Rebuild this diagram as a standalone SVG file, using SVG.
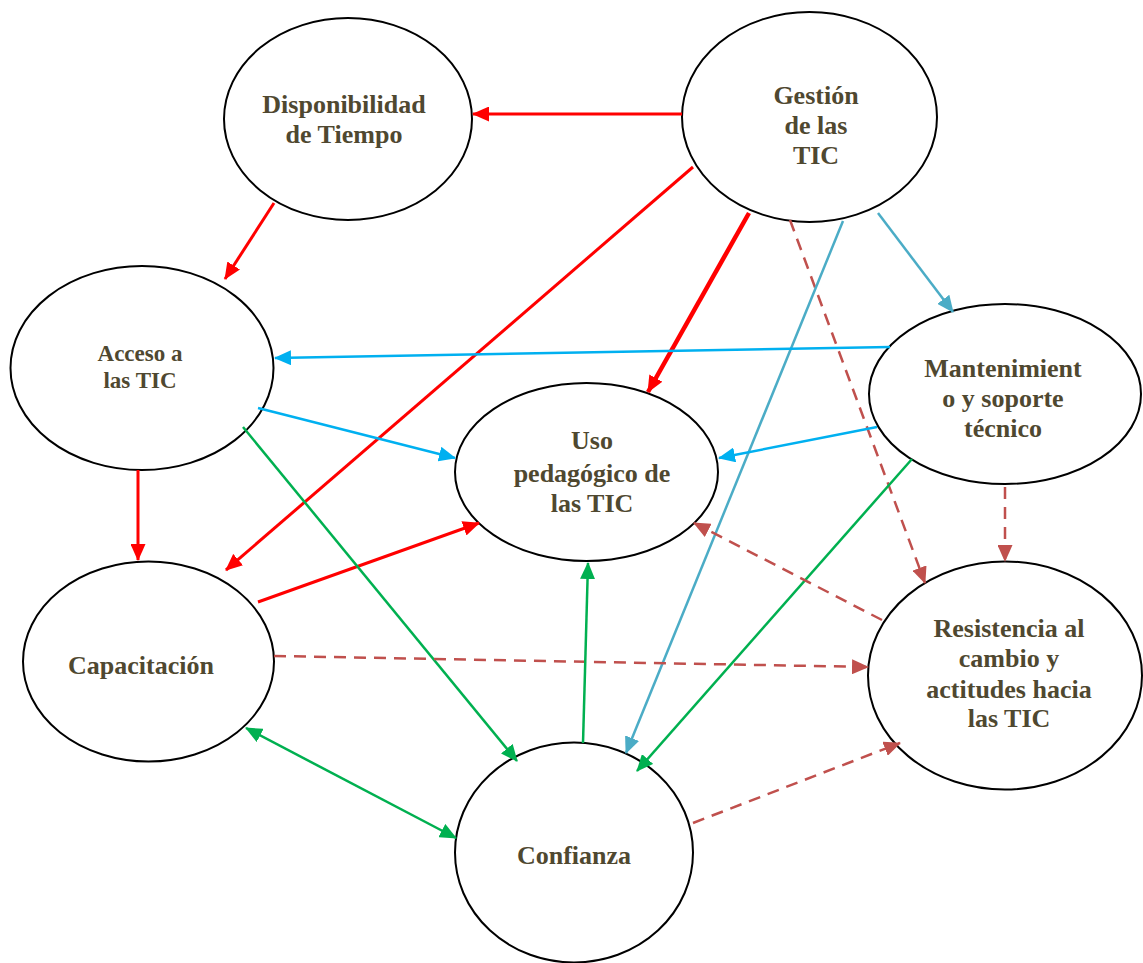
<svg xmlns="http://www.w3.org/2000/svg" width="1143" height="963" viewBox="0 0 1143 963">
<style>
  .node ellipse { fill: #ffffff; stroke: #000000; stroke-width: 2; }
  .node text { font-family: "Liberation Serif", "Times New Roman", serif; font-weight: bold; font-size: 26px; fill: #4f4830; text-anchor: middle; }
  .node text.sm { font-size: 23px; }
  .c { fill: none; stroke-width: 2.5; }
  .red { stroke: #ff0000; stroke-width: 3; marker-end: url(#ah-red); }
  .redthick { stroke: #ff0000; stroke-width: 4.5; marker-end: url(#ah-red); }
  .blue { stroke: #00b0f0; marker-end: url(#ah-blue); }
  .teal { stroke: #4bacc6; marker-end: url(#ah-teal); }
  .green { stroke: #00b050; marker-end: url(#ah-green); }
  .dash { stroke: #c0504d; stroke-dasharray: 12 8; marker-end: url(#ah-dash); }
</style>
<defs>
  <marker id="ah-red" markerUnits="userSpaceOnUse" markerWidth="17" markerHeight="15" refX="16" refY="7.5" orient="auto-start-reverse"><path d="M0,0 L17,7.5 L0,15 z" fill="#ff0000"/></marker>
  <marker id="ah-blue" markerUnits="userSpaceOnUse" markerWidth="17" markerHeight="15" refX="16" refY="7.5" orient="auto-start-reverse"><path d="M0,0 L17,7.5 L0,15 z" fill="#00b0f0"/></marker>
  <marker id="ah-teal" markerUnits="userSpaceOnUse" markerWidth="17" markerHeight="15" refX="16" refY="7.5" orient="auto-start-reverse"><path d="M0,0 L17,7.5 L0,15 z" fill="#4bacc6"/></marker>
  <marker id="ah-green" markerUnits="userSpaceOnUse" markerWidth="17" markerHeight="15" refX="16" refY="7.5" orient="auto-start-reverse"><path d="M0,0 L17,7.5 L0,15 z" fill="#00b050"/></marker>
  <marker id="ah-dash" markerUnits="userSpaceOnUse" markerWidth="17" markerHeight="15" refX="16" refY="7.5" orient="auto-start-reverse"><path d="M0,0 L17,7.5 L0,15 z" fill="#c0504d"/></marker>
</defs>
<rect x="0" y="0" width="1143" height="963" fill="#ffffff"/>

<g id="node-disponibilidad" class="node">
  <ellipse cx="348" cy="119" rx="124" ry="101"/>
  <text x="344" y="113">Disponibilidad</text>
  <text x="344" y="143">de Tiempo</text>
</g>
<g id="node-gestion" class="node">
  <ellipse cx="809.5" cy="117" rx="127.5" ry="105"/>
  <text x="816" y="104">Gestión</text>
  <text x="816" y="134">de las</text>
  <text x="816" y="164">TIC</text>
</g>
<g id="node-acceso" class="node">
  <ellipse cx="142" cy="368" rx="131.5" ry="102"/>
  <text class="sm" x="140" y="361">Acceso a</text>
  <text class="sm" x="140" y="388">las TIC</text>
</g>
<g id="node-mantenimiento" class="node">
  <ellipse cx="1005" cy="394" rx="136" ry="90"/>
  <text x="1003" y="377">Mantenimient</text>
  <text x="1003" y="407">o y soporte</text>
  <text x="1003" y="437">técnico</text>
</g>
<g id="node-uso" class="node">
  <ellipse cx="586.5" cy="472" rx="131.5" ry="89"/>
  <text x="592" y="449">Uso</text>
  <text x="592" y="482">pedagógico de</text>
  <text x="592" y="512">las TIC</text>
</g>
<g id="node-capacitacion" class="node">
  <ellipse cx="148.5" cy="661.5" rx="125.5" ry="100"/>
  <text x="141" y="674">Capacitación</text>
</g>
<g id="node-resistencia" class="node">
  <ellipse cx="1005" cy="675.5" rx="137" ry="114"/>
  <text x="1009" y="637">Resistencia al</text>
  <text x="1009" y="667">cambio y</text>
  <text x="1009" y="698">actitudes hacia</text>
  <text x="1009" y="727">las TIC</text>
</g>
<g id="node-confianza" class="node">
  <ellipse cx="574" cy="852.5" rx="119" ry="110"/>
  <text x="574" y="864">Confianza</text>
</g>

<g id="connectors">
  <line class="c red" x1="682" y1="114" x2="473" y2="114"/>
  <line class="c red" x1="693" y1="167" x2="226" y2="570"/>
  <line class="c redthick" x1="749" y1="213" x2="648" y2="392"/>
  <line class="c dash" x1="790" y1="220" x2="925" y2="583"/>
  <line class="c teal" x1="843" y1="221" x2="626" y2="753"/>
  <line class="c teal" x1="878" y1="213" x2="953" y2="312"/>
  <line class="c red" x1="274" y1="203" x2="225" y2="279"/>
  <line class="c blue" x1="258" y1="408" x2="455" y2="458"/>
  <line class="c blue" x1="890" y1="347" x2="275" y2="358"/>
  <line class="c blue" x1="877" y1="427" x2="719" y2="458"/>
  <line class="c red" x1="138" y1="470" x2="138" y2="560"/>
  <line class="c red" x1="258" y1="602" x2="479" y2="523"/>
  <line class="c green" x1="243" y1="427" x2="517" y2="761"/>
  <line class="c dash" x1="274" y1="656" x2="868" y2="667"/>
  <line class="c green" x1="246" y1="728" x2="456" y2="838" style="marker-start:url(#ah-green)"/>
  <line class="c green" x1="583" y1="743" x2="588" y2="563"/>
  <line class="c green" x1="912" y1="459" x2="637" y2="771"/>
  <line class="c dash" x1="693" y1="823" x2="900" y2="743"/>
  <line class="c dash" x1="882" y1="620" x2="694" y2="523"/>
  <line class="c dash" x1="1005" y1="487" x2="1005" y2="561"/>
</g>
</svg>
